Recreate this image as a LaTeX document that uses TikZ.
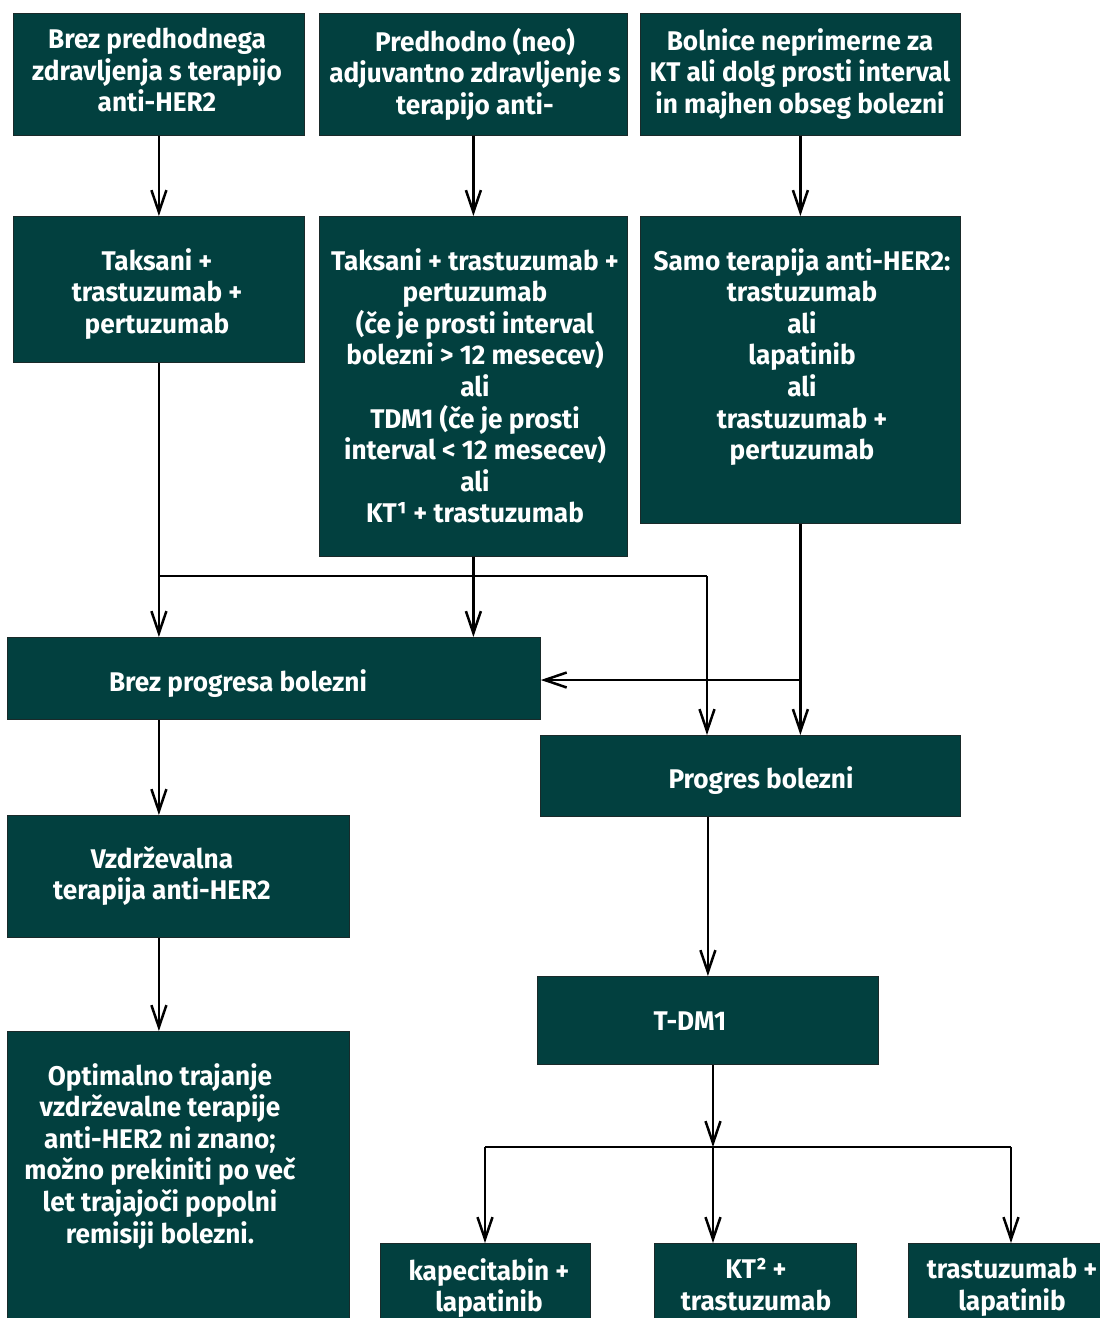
\documentclass[tikz,border=0pt]{standalone}
\usepackage{fontspec}
\setmainfont{Fira Sans}[FakeStretch=0.97]
\usetikzlibrary{arrows.meta}
\definecolor{boxc}{HTML}{02403F}
\definecolor{edgec}{HTML}{1A2A2A}
\newcommand{\firststrut}{\rule{0pt}{22pt}}
\begin{document}
\begin{tikzpicture}[x=1pt,y=-1pt,
  box/.style={fill=boxc, draw=edgec, line width=0.8pt, anchor=north west, inner sep=0pt},
  txt/.style={text=white, font=\fontsize{27}{31.6}\selectfont\bfseries, align=center, inner sep=0pt, anchor=north, execute at begin node=\firststrut},
  arr/.style={line width=2.5pt, -{Straight Barb[length=22pt,width=15pt,line width=2.5pt]}},
  ln/.style={line width=2.5pt}]
\useasboundingbox (0,0) rectangle (1100,1318);
\fill[white] (0,0) rectangle (1100,1318);
% boxes
\node[box, minimum width=291pt, minimum height=122pt] (A1) at (13,13) {};
\node[box, minimum width=308pt, minimum height=122pt] (A2) at (319,13) {};
\node[box, minimum width=320pt, minimum height=122pt] (A3) at (640,13) {};
\node[box, minimum width=291pt, minimum height=146pt] (B1) at (13,216) {};
\node[box, minimum width=308pt, minimum height=340pt] (B2) at (319,216) {};
\node[box, minimum width=320pt, minimum height=307pt] (B3) at (640,216) {};
\node[box, minimum width=533pt, minimum height=82pt] (C) at (7,637) {};
\node[box, minimum width=420pt, minimum height=81pt] (D) at (540,735) {};
\node[box, minimum width=342pt, minimum height=122pt] (E) at (7,815) {};
\node[box, minimum width=342pt, minimum height=295pt] (F) at (7,1031) {};
\node[box, minimum width=341pt, minimum height=88pt] (G) at (537,976) {};
\node[box, minimum width=210pt, minimum height=85pt] (H1) at (380,1243) {};
\node[box, minimum width=202pt, minimum height=85pt] (H2) at (654,1243) {};
\node[box, minimum width=200pt, minimum height=85pt] (H3) at (908,1243) {};
% texts (anchor north = first line centre - 13)
\node[txt] (tA1) at (157,28) {Brez predhodnega\\zdravljenja s terapijo\\anti-HER2};
\node[txt] (tA2) at (475,28) {Predhodno (neo)\\adjuvantno zdravljenje s\\terapijo anti-};
\node[txt] (tA3) at (800,28) {Bolnice neprimerne za\\KT ali dolg prosti interval\\in majhen obseg bolezni};
\node[txt] (tB1) at (157,248) {Taksani +\\trastuzumab +\\pertuzumab};
\node[txt] (tB2) at (475,248) {Taksani + trastuzumab +\\pertuzumab\\(če je prosti interval\\bolezni > 12 mesecev)\\ali\\TDM1 (če je prosti\\interval < 12 mesecev)\\ali\\KT¹ + trastuzumab};
\node[txt] (tB3) at (802,248) {Samo terapija anti-HER2:\\trastuzumab\\ali\\lapatinib\\ali\\trastuzumab +\\pertuzumab};
\node[txt] (tC) at (238,669) {Brez progresa bolezni};
\node[txt] (tD) at (761,766) {Progres bolezni};
\node[txt] (tE) at (162,846) {Vzdrževalna\\terapija anti-HER2};
\node[txt] (tF) at (160,1063) {Optimalno trajanje\\vzdrževalne terapije\\anti-HER2 ni znano;\\možno prekiniti po več\\let trajajoči popolni\\remisiji bolezni.};
\node[txt] (tG) at (690,1008) {T-DM1};
\node[txt] (tH1) at (489,1258) {kapecitabin +\\lapatinib};
\node[txt] (tH2) at (756,1258) {KT² +\\trastuzumab};
\node[txt] (tH3) at (1012,1258) {trastuzumab +\\lapatinib};
% junction coordinates
\coordinate (j1) at (158.5,576);
\coordinate (j2) at (707,576);
\coordinate (j3) at (800,680);
\coordinate (j4) at (713,1147);
\coordinate (j5) at (485,1147);
\coordinate (j6) at (1011,1147);
% connectors
\draw[arr] (A1.south) -- (A1.south |- B1.north);
\draw[arr] (A2.south) -- (A2.south |- B2.north);
\draw[arr] (A3.south) -- (A3.south |- B3.north);
\draw[arr] (B1.south) -- (B1.south |- C.north);
\draw[ln] (j1) -- (j2);
\draw[arr] (j2) -- (j2 |- D.north);
\draw[arr] (B2.south) -- (B2.south |- C.north);
\draw[arr] (B3.south) -- (B3.south |- D.north);
\draw[arr] (j3) -- (j3 -| C.east);
\draw[arr] (C.south -| B1.south) -- (B1.south |- E.north);
\draw[arr] (E.south -| B1.south) -- (B1.south |- F.north);
\draw[arr] (G.north |- D.south) -- (G.north);
\draw[arr] (G.south -| j4) -- (j4);
\draw[ln] (j5) -- (j6);
\draw[arr] (j5) -- (j5 |- H1.north);
\draw[arr] (j4) -- (j4 |- H2.north);
\draw[arr] (j6) -- (j6 |- H3.north);
\end{tikzpicture}
\end{document}
